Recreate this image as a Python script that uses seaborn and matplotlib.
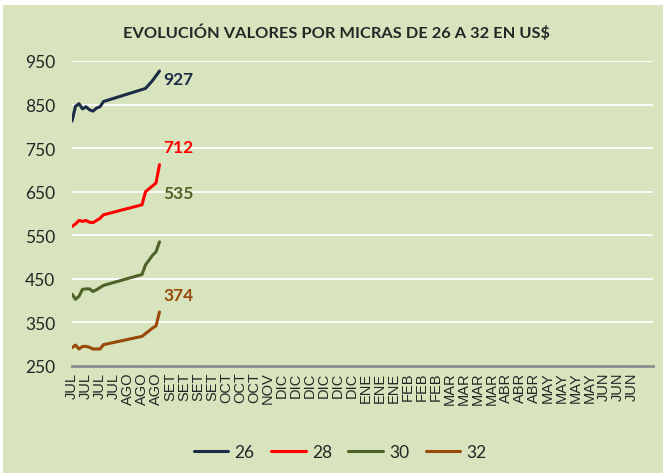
import matplotlib
matplotlib.use("Agg")
import matplotlib.pyplot as plt
from matplotlib.patches import Rectangle
import seaborn as sns
import pandas as pd

# x axis labels (one label every 4 sale positions)
months = (["JUL"] * 4 + ["AGO"] * 3 + ["SET"] * 4 + ["OCT"] * 3 + ["NOV"] * 1 +
          ["DIC"] * 6 + ["ENE"] * 3 + ["FEB"] * 3 + ["MAR"] * 4 + ["ABR"] * 3 +
          ["MAY"] * 4 + ["JUN"] * 3)
label_step = 4

# observed positions (sale index) and prices, US$
pos_26 = [0, 1, 2, 3, 4, 5, 6, 7, 8, 9, 21, 23, 25]
val_26 = [812, 846, 852, 840, 845, 838, 835, 842, 845, 857, 887, 905, 927]

pos_28 = [0, 1, 2, 3, 4, 5, 6, 7, 8, 9, 20, 21, 24, 25]
val_28 = [570, 576, 584, 582, 584, 580, 579, 584, 589, 597, 620, 650, 670, 712]

pos_30 = [0, 1, 2, 3, 4, 5, 6, 7, 8, 9, 20, 21, 23, 24, 25]
val_30 = [415, 403, 410, 426, 427, 427, 421, 425, 430, 435, 460, 482, 504, 512, 535]

pos_32 = [0, 1, 2, 3, 4, 5, 6, 7, 8, 9, 20, 23, 24, 25]
val_32 = [292, 298, 289, 295, 295, 293, 289, 289, 289, 299, 318, 337, 342, 374]

series = ["26", "28", "30", "32"]
colors = {"26": "#1b2c47", "28": "#ff0000", "30": "#4f6228", "32": "#984807"}
# label offsets in points from the last point
label_offsets = {"26": (3, -6), "28": (3, 13), "30": (3, 35), "32": (3, 12)}

frames = []
for name, pos, val in [("26", pos_26, val_26), ("28", pos_28, val_28),
                       ("30", pos_30, val_30), ("32", pos_32, val_32)]:
    frames.append(pd.DataFrame({"pos": pos, "precio": val, "micra": name}))
df = pd.concat(frames, ignore_index=True)

bg = "#d7e4bd"
sns.set_style("white")
plt.rcParams["font.family"] = ["Lato", "DejaVu Sans"]

fig = plt.figure(figsize=(6.67, 4.77), dpi=100, facecolor="white")
fig.patches.append(Rectangle((3 / 667, 3 / 477), 660 / 667, 468 / 477,
                             transform=fig.transFigure, facecolor=bg,
                             edgecolor="none", zorder=-10))
ax = fig.add_axes([72 / 667, 1 - 367 / 477, 581 / 667, 305 / 477])
ax.patch.set_alpha(0)

sns.lineplot(data=df, x="pos", y="precio", hue="micra", hue_order=series,
             palette=colors, linewidth=2.2, estimator=None, sort=True,
             ax=ax, legend=True)

ax.set_ylim(250, 950)
ax.set_yticks(range(250, 951, 100))
ax.set_xlim(0, 166)
ax.set_xticks([i * label_step for i in range(len(months))])
ax.set_xticklabels(months, rotation=90, fontsize=10.5,
                   family=["Liberation Sans", "DejaVu Sans"])
ax.tick_params(axis="both", length=0)
ax.tick_params(axis="y", labelsize=12.5, pad=12)
ax.tick_params(axis="x", pad=4)
ax.yaxis.grid(True, color="white", linewidth=1.3)
ax.set_axisbelow(True)
for side in ["top", "right", "left"]:
    ax.spines[side].set_visible(False)
ax.spines["bottom"].set_color("#8c8c8c")
ax.spines["bottom"].set_linewidth(2)
ax.set_xlabel("")
ax.set_ylabel("")

# end value labels
for name in series:
    sub = df[df["micra"] == name]
    last = sub.iloc[-1]
    ax.annotate(f"{int(last['precio'])}", (last["pos"], last["precio"]),
                xytext=label_offsets[name], textcoords="offset points",
                ha="left", va="center", fontsize=12.5, fontweight="bold",
                color=colors[name])

handles, labels = ax.get_legend_handles_labels()
ax.get_legend().remove()
fig.legend(handles, labels, loc="center", bbox_to_anchor=(0.51, 1 - 453 / 477),
           ncol=4, frameon=False, fontsize=12.5, handlelength=2.0,
           handletextpad=0.35, columnspacing=0.95)

fig.text(0.505, 1 - 33 / 477, "EVOLUCIÓN VALORES POR MICRAS DE 26 A 32 EN US$",
         ha="center", va="center", fontsize=11.8, fontweight="bold")

fig.savefig("out.png", dpi=100, facecolor=fig.get_facecolor())
